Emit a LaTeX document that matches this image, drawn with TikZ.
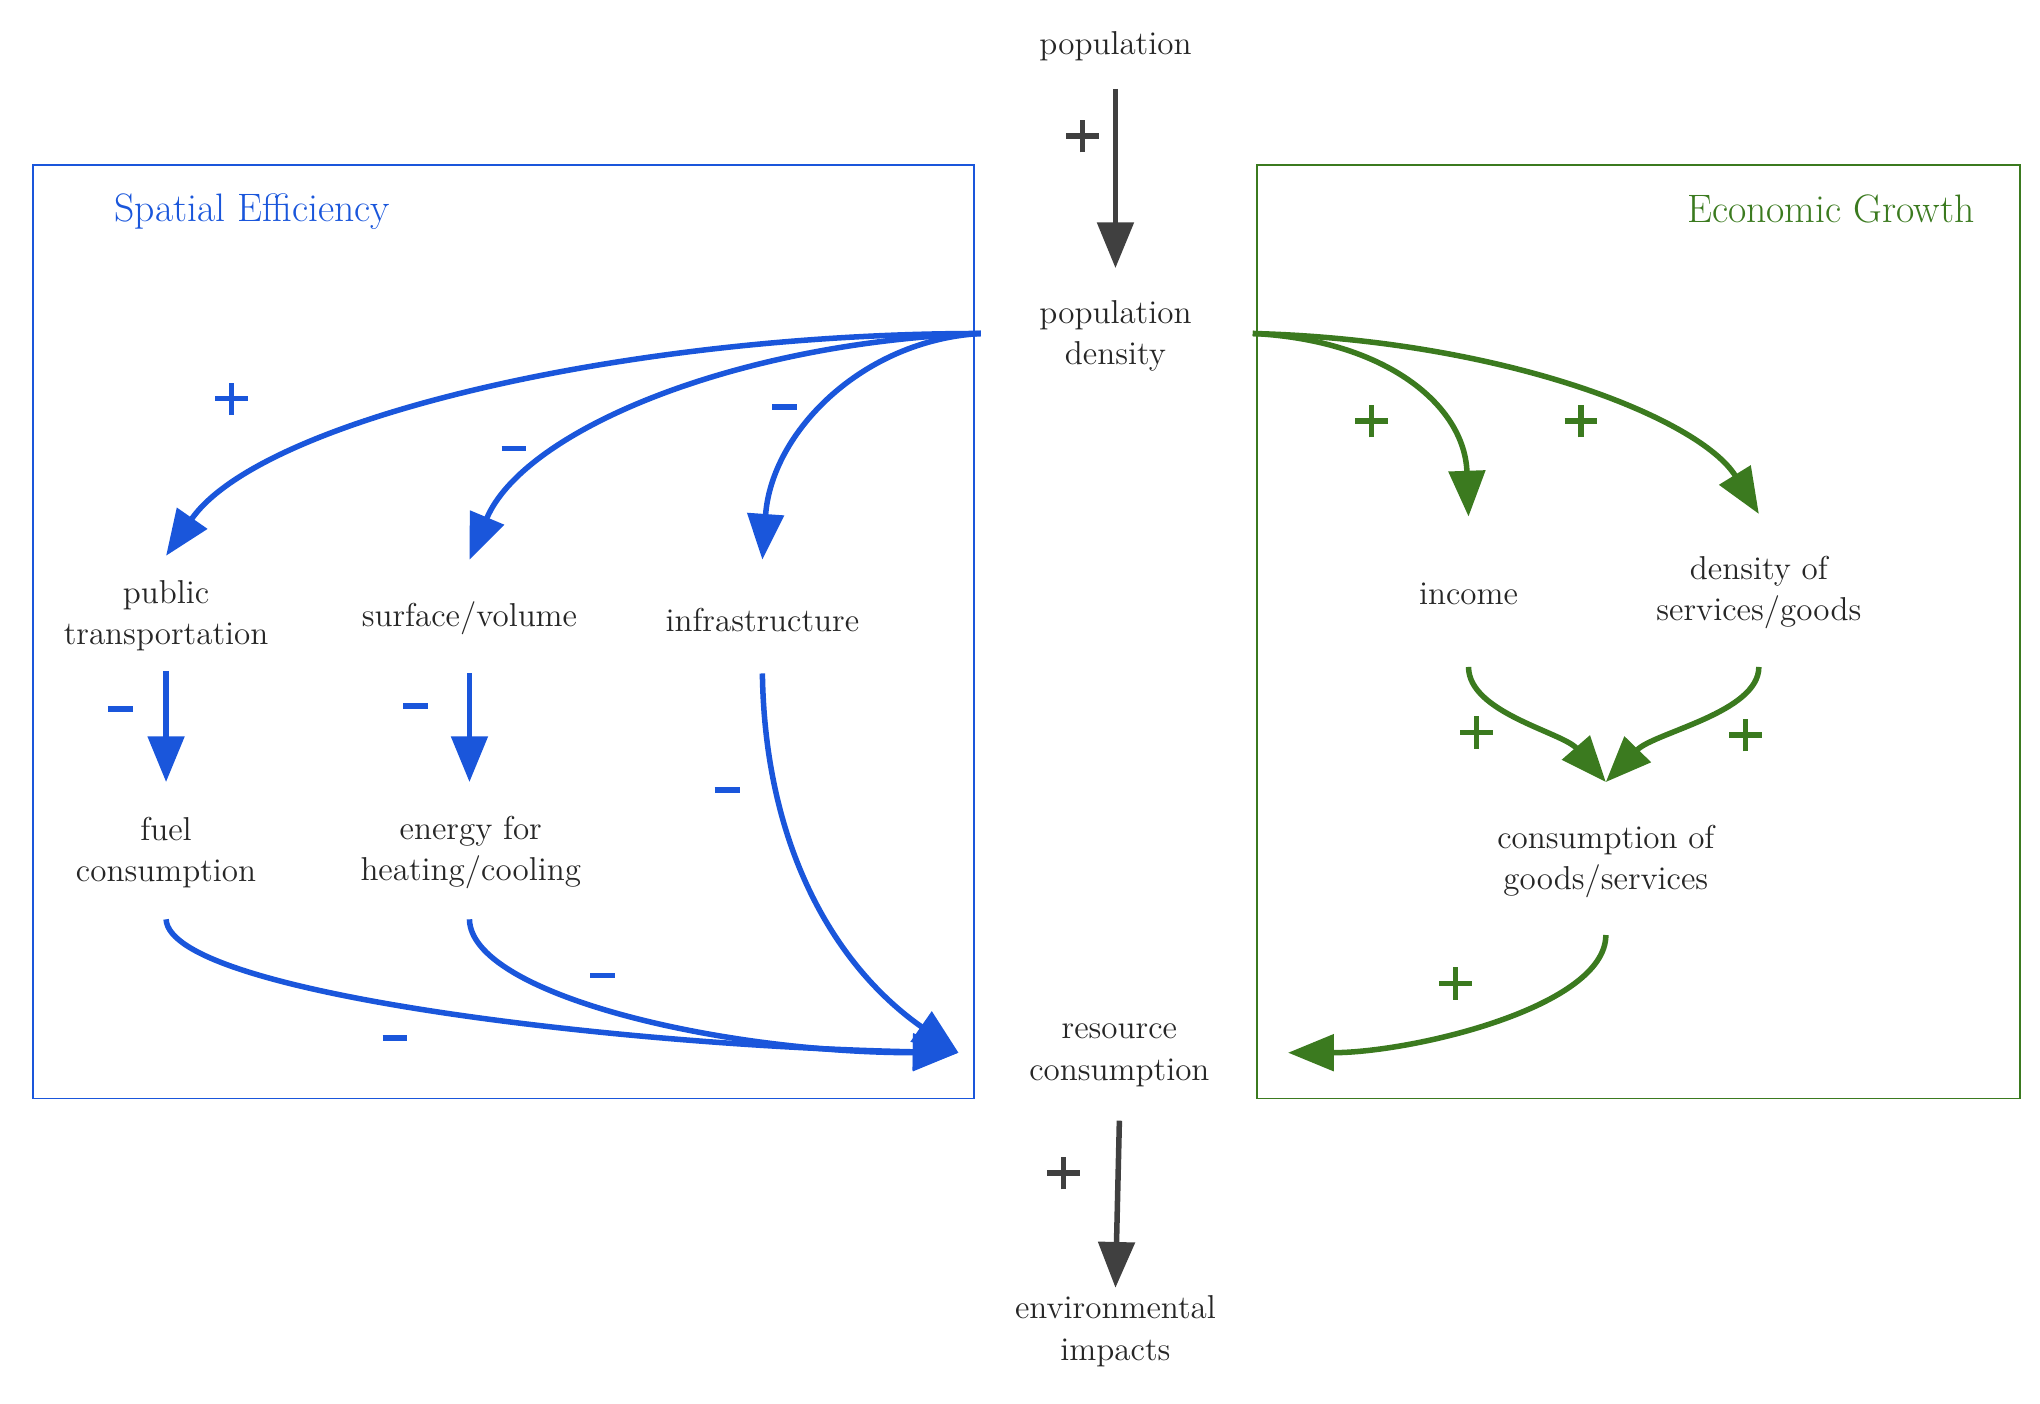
\documentclass[tikz,border=0pt]{standalone}
\usepackage{tikz}
\usetikzlibrary{arrows.meta, positioning}
\definecolor{sblue}{HTML}{1A56DB}
\definecolor{egreen}{HTML}{3B7A1F}
\definecolor{dgray}{HTML}{404040}
\newcommand{\minussign}{\rule{0.38cm}{0.09cm}}
\newcommand{\plussign}{\rule[0.21cm]{0.5cm}{0.08cm}\kern-0.29cm\rule{0.08cm}{0.5cm}\kern0.21cm}
\begin{document}
\begin{tikzpicture}[x=0.02cm,y=-0.02cm,
    lbl/.style={font=\Large, align=center, text=black!85},
    arr/.style={line width=2.4pt, -{Triangle[length=7mm,width=5.5mm]}},
    sgn/.style={inner sep=0pt}]
        \useasboundingbox (0,0) rectangle (1560,1073);
        % frames
        \draw[sblue, line width=0.8pt] (25,126) rectangle (745,840);
        \draw[egreen, line width=0.8pt] (961,126) rectangle (1545,840);
        \node[text=sblue, font=\LARGE] (tse) at (193,162) {Spatial Efficiency};
        \node[text=egreen, font=\LARGE] (teg) at (1400,160) {Economic Growth};

        \node[lbl] (pop) at (853,35) {population};
        \node[lbl] (dens) at (853,257) {population\\density};
        \node[lbl] (pub) at (127,471) {public\\transportation};
        \node[lbl] (sv) at (359,473) {surface/volume};
        \node[lbl] (infra) at (583,474) {infrastructure};
        \node[lbl] (fuel) at (127,652) {fuel\\consumption};
        \node[lbl] (heat) at (360,652) {energy for\\heating/cooling};
        \node[lbl] (res) at (856,807) {resource\\consumption};
        \node[lbl] (env) at (853,1018) {environmental\\impacts};
        \node[lbl] (inc) at (1123,454) {income};
        \node[lbl] (dserv) at (1345,453) {density of\\services/goods};
        \node[lbl] (cons) at (1228,659) {consumption of\\goods/services};

        \coordinate (bl) at (750,255);
        \coordinate (gr) at (958,255);
        \coordinate (rb) at (733,805);
        \coordinate (rg) at (985,805);
        \coordinate (cg) at (1228,598);

        % gray chain
        \draw[arr, dgray] (853,68) -- (853,205);
        \draw[arr, dgray] (856,857) -- (env.north);

        % spatial efficiency
        \draw[arr, sblue] (bl) .. controls (480,255) and (200,320) .. (127,425);
        \draw[arr, sblue] (bl) .. controls (560,262) and (400,330) .. (359,428);
        \draw[arr, sblue] (bl) .. controls (660,260) and (590,330) .. (583,428);
        \draw[arr, sblue] (127,513) -- (127,598);
        \draw[arr, sblue] (359,515) -- (359,598);
        \draw[arr, sblue] (127,703) .. controls (130,760) and (480,800) .. (rb);
        \draw[arr, sblue] (359,703) .. controls (360,760) and (550,805) .. (rb);
        \draw[arr, sblue] (583,515) .. controls (585,650) and (640,740) .. (rb);

        % economic growth
        \draw[arr, egreen] (gr) .. controls (1060,260) and (1120,310) .. (1123,395);
        \draw[arr, egreen] (gr) .. controls (1150,260) and (1300,320) .. (1345,393);
        \draw[arr, egreen] (1123,510) .. controls (1123,545) and (1195,560) .. (cg);
        \draw[arr, egreen] (1345,510) .. controls (1345,545) and (1265,560) .. (cg);
        \draw[arr, egreen] (1228,715) .. controls (1228,770) and (1080,805) .. (rg);

        % signs
        \node[sgn, dgray] (s1) at (828,104) {\plussign};
        \node[sgn, dgray] (s2) at (813,897) {\plussign};
        \foreach \p in {(177,305)} \node[sgn, sblue] at \p {\plussign};
        \foreach \p in {(393,343),(600,311),(92,542),(318,540),(556,604),(461,746),(302,794)}
          \node[sgn, sblue] at \p {\minussign};
        \foreach \p in {(1049,322),(1209,322),(1129,560),(1335,562),(1113,752)}
          \node[sgn, egreen] at \p {\plussign};
      \end{tikzpicture}
\end{document}
